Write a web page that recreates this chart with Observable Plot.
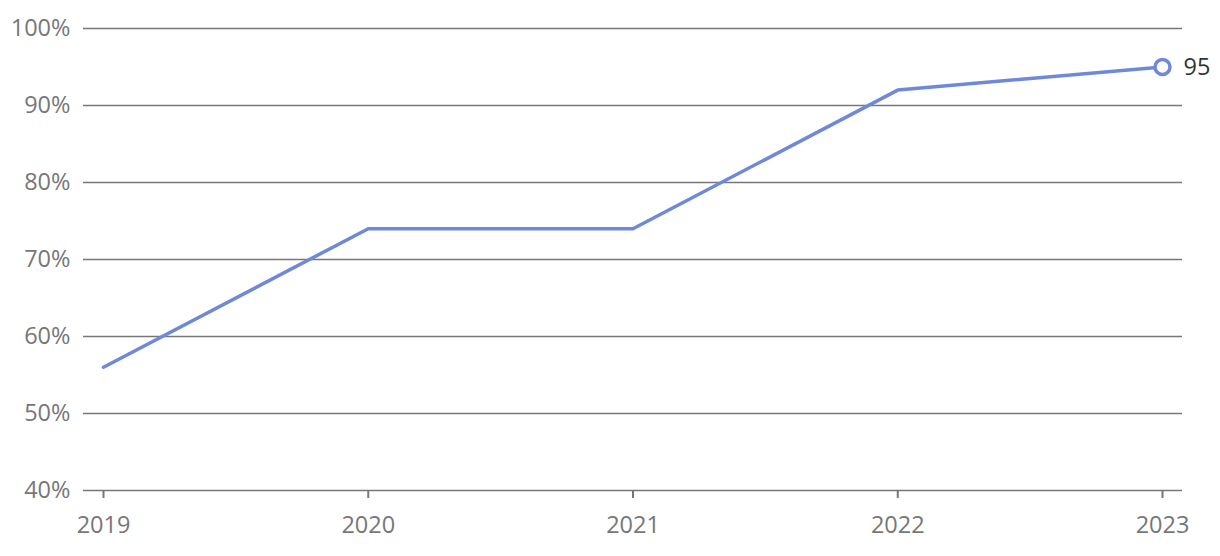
<!DOCTYPE html>
<html>
<head>
<meta charset="utf-8">
<script src="https://cdn.jsdelivr.net/npm/d3@7"></script>
<script src="https://cdn.jsdelivr.net/npm/@observablehq/plot@0.6"></script>
<style>
  html, body { margin: 0; padding: 0; background: #fff; }
  #chart svg { display: block; }
</style>
</head>
<body>
<div id="chart"></div>
<script>
const years = [2019, 2020, 2021, 2022, 2023];
const values = [56, 74, 74, 92, 95];
const yTicks = [40, 50, 60, 70, 80, 90, 100];

const data = years.map((y, i) => ({year: y, value: values[i]}));
const last = data[data.length - 1];

const lineColor = "#6f88d8";
const gridColor = "#777";
const labelColor = "#777";

const chart = Plot.plot({
  width: 1220,
  height: 556,
  marginLeft: 83,
  marginRight: 38,
  marginTop: 28,
  marginBottom: 66,
  style: {fontFamily: "'Open Sans', sans-serif", fontSize: "23.5px", color: labelColor, background: "#fff"},
  x: {type: "linear", domain: [2019, 2023], insetLeft: 20, insetRight: 20},
  y: {domain: [40, 100]},
  marks: [
    Plot.ruleY(yTicks, {stroke: gridColor, strokeWidth: 1.5}),
    Plot.axisY({ticks: yTicks, tickSize: 0, tickPadding: 13, tickFormat: d => d + "%", label: null, fill: labelColor}),
    Plot.axisX({ticks: years, tickSize: 8, tickPadding: 18, tickFormat: d => String(d), label: null, stroke: gridColor, strokeWidth: 2, fill: labelColor}),
    Plot.line(data, {x: "year", y: "value", stroke: lineColor, strokeWidth: 3.5}),
    Plot.dot([last], {x: "year", y: "value", r: 7.5, stroke: lineColor, strokeWidth: 3.5, fill: "#fff"}),
    Plot.text([last], {x: "year", y: "value", text: d => String(d.value), dx: 21, textAnchor: "start", fill: "#333", fontSize: 23.5})
  ]
});
document.getElementById("chart").appendChild(chart);
</script>
</body>
</html>
